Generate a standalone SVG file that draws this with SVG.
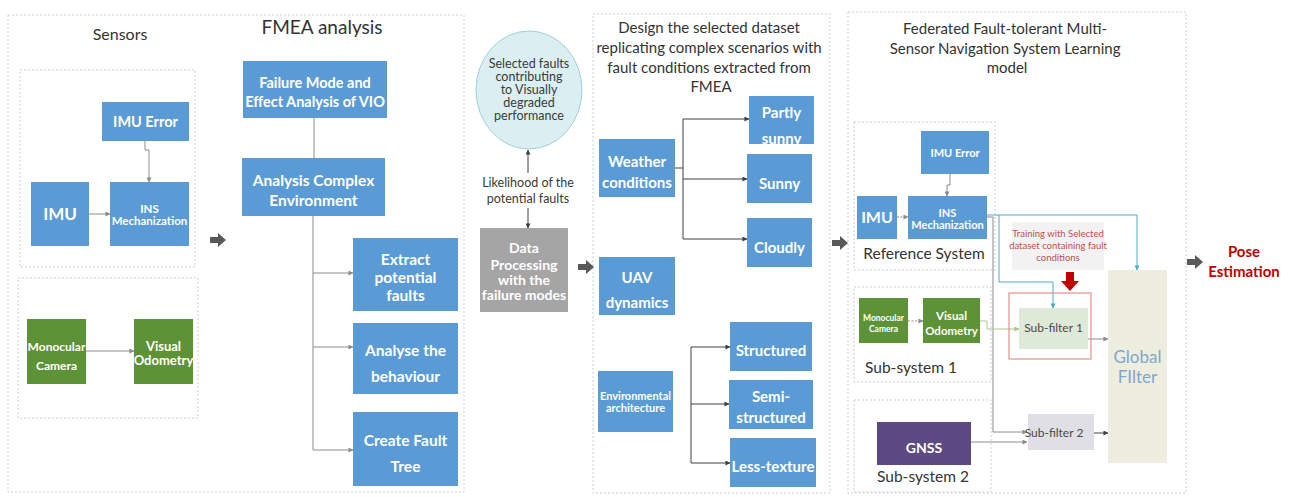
<svg xmlns="http://www.w3.org/2000/svg" width="1290" height="497" viewBox="0 0 1290 497">
  <style>
    text { font-family: Lato, "Liberation Sans", sans-serif; text-anchor: middle; }
    .panel { fill: none; stroke: #cfcfcf; stroke-width: 1; stroke-dasharray: 2 2; }
    .blue { fill: #5b9bd5; }
    .green { fill: #5e9236; }
    .gray { fill: #a5a5a5; }
    .purple { fill: #5d4a83; }
    .lbl { fill: #ffffff; font-weight: bold; }
    .title { fill: #333333; }
    .ln { fill: none; stroke: #8c8c8c; stroke-width: 1; }
    .dk { fill: none; stroke: #404040; stroke-width: 1; }
    .cy { fill: none; stroke: #4bacc6; stroke-width: 1; }
    .gn { fill: none; stroke: #a9c48d; stroke-width: 1; }
    .big { fill: #595959; }
  </style>
  <defs>
    <marker id="ah" viewBox="0 0 6 6" refX="5.5" refY="3" markerWidth="5" markerHeight="5" orient="auto" markerUnits="userSpaceOnUse">
      <path d="M0,0 L6,3 L0,6 z" fill="#404040"/>
    </marker>
    <marker id="ahg" viewBox="0 0 6 6" refX="5.5" refY="3" markerWidth="5" markerHeight="5" orient="auto" markerUnits="userSpaceOnUse">
      <path d="M0,0 L6,3 L0,6 z" fill="#8c8c8c"/>
    </marker>
    <marker id="ahc" viewBox="0 0 6 6" refX="5.5" refY="3" markerWidth="5" markerHeight="5" orient="auto" markerUnits="userSpaceOnUse">
      <path d="M0,0 L6,3 L0,6 z" fill="#4bacc6"/>
    </marker>
    <marker id="ahn" viewBox="0 0 6 6" refX="5.5" refY="3" markerWidth="5" markerHeight="5" orient="auto" markerUnits="userSpaceOnUse">
      <path d="M0,0 L6,3 L0,6 z" fill="#a9c48d"/>
    </marker>
    <!-- block arrow, origin at its left middle -->
    <path id="bigArrow" d="M0,-3 H8 V-7 L16,0 L8,7 V3 H0 Z"/>
  </defs>

  <rect width="1290" height="497" fill="#ffffff"/>

  <!-- panels -->
  <g id="panels">
    <rect class="panel" x="8" y="15" width="456" height="477"/>
    <rect class="panel" x="20" y="70" width="175" height="197"/>
    <rect class="panel" x="18" y="278" width="180" height="140"/>
    <rect class="panel" x="593" y="14" width="237" height="479"/>
    <rect class="panel" x="848" y="12" width="338" height="481"/>
    <rect class="panel" x="854" y="122" width="141" height="148"/>
    <rect class="panel" x="854" y="287" width="137" height="95"/>
    <rect class="panel" x="854" y="400" width="137" height="92"/>
  </g>

  <!-- titles -->
  <g id="titles">
    <text class="title" x="120" y="40" font-size="16">Sensors</text>
    <text class="title" x="322" y="34" font-size="19">FMEA analysis</text>
    <text class="title" font-size="15">
      <tspan x="711" y="33">Design the selected dataset</tspan>
      <tspan x="711" y="53">replicating complex scenarios with</tspan>
      <tspan x="711" y="73">fault conditions extracted from</tspan>
      <tspan x="711" y="92">FMEA</tspan>
    </text>
    <text class="title" font-size="15">
      <tspan x="1007" y="34">Federated Fault-tolerant Multi-</tspan>
      <tspan x="1007" y="54">Sensor Navigation System Learning</tspan>
      <tspan x="1007" y="73">model</tspan>
    </text>
  </g>

  <!-- connectors -->
  <g id="connectors">
    <!-- sensors -->
    <path class="ln" d="M89,214 H110" marker-end="url(#ahg)"/>
    <path class="ln" d="M145,141 V150 H149 V182" marker-end="url(#ahg)"/>
    <path class="ln" d="M86,351 H134" marker-end="url(#ahg)"/>
    <!-- FMEA -->
    <path class="ln" d="M314,118 V158"/>
    <path class="ln" d="M313,216 V450"/>
    <path class="ln" d="M313,273 H353" marker-end="url(#ahg)"/>
    <path class="ln" d="M313,347 H353" marker-end="url(#ahg)"/>
    <path class="ln" d="M313,450 H353" marker-end="url(#ahg)"/>
    <!-- likelihood -->
    <path class="dk" d="M528,173 V150" marker-end="url(#ah)"/>
    <path class="dk" d="M528,208 V228" marker-end="url(#ah)"/>
    <!-- weather -->
    <path class="dk" d="M675,168 H683"/>
    <path class="dk" d="M683,119 V239"/>
    <path class="dk" d="M683,119 H749" marker-end="url(#ah)"/>
    <path class="dk" d="M683,179 H747" marker-end="url(#ah)"/>
    <path class="dk" d="M683,239 H747" marker-end="url(#ah)"/>
    <!-- environment -->
    <path class="dk" d="M691,347 V463"/>
    <path class="dk" d="M691,347 H730" marker-end="url(#ah)"/>
    <path class="dk" d="M691,404 H729" marker-end="url(#ah)"/>
    <path class="dk" d="M691,463 H730" marker-end="url(#ah)"/>
    <!-- reference system -->
    <path class="ln" d="M897,217 H908" stroke-dasharray="2 1.5" marker-end="url(#ahg)"/>
    <path class="ln" d="M950,174 V185 H947 V196" marker-end="url(#ahg)"/>
    <path class="cy" d="M987,215 H1137 V270" marker-end="url(#ahc)"/>
    <path class="cy" d="M999,215 V282 H1053 V308" marker-end="url(#ahc)"/>
    <path class="ln" d="M987,217 H993 V432 H1027" marker-end="url(#ahg)"/>
    <!-- sub-system 1 -->
    <path class="ln" d="M908,321 H923" stroke-dasharray="2 1.5" marker-end="url(#ahg)"/>
    <path class="gn" d="M980,321 H987 V329 H1019" marker-end="url(#ahn)"/>
    <path class="ln" d="M1088,339 H1108" marker-end="url(#ahg)"/>
    <!-- sub-system 2 -->
    <path class="ln" d="M971,442 H1027" marker-end="url(#ahg)"/>
    <path class="dk" d="M1094,433 H1108" marker-end="url(#ah)"/>
    <!-- flow arrows between stages -->
    <use href="#bigArrow" class="big" x="210" y="240"/>
    <use href="#bigArrow" class="big" x="578" y="267"/>
    <use href="#bigArrow" class="big" x="832" y="243"/>
    <use href="#bigArrow" class="big" x="1187" y="262"/>
  </g>

  <!-- sensors -->
  <g id="imu-error">
    <rect class="blue" x="102" y="102" width="87" height="39"/>
    <text class="lbl" x="145.5" y="127" font-size="14.5">IMU Error</text>
  </g>
  <g id="imu">
    <rect class="blue" x="31" y="182" width="58" height="64"/>
    <text class="lbl" x="60" y="220" font-size="17">IMU</text>
  </g>
  <g id="ins">
    <rect class="blue" x="110" y="182" width="79" height="64"/>
    <text class="lbl" font-size="11.5"><tspan x="149.5" y="213">INS</tspan><tspan x="149.5" y="225">Mechanization</tspan></text>
  </g>
  <g id="camera">
    <rect class="green" x="27" y="319" width="59" height="65"/>
    <text class="lbl" font-size="12"><tspan x="56.5" y="351">Monocular</tspan><tspan x="56.5" y="370">Camera</tspan></text>
  </g>
  <g id="vo">
    <rect class="green" x="134" y="319" width="59" height="65"/>
    <text class="lbl" font-size="13"><tspan x="163.5" y="351">Visual</tspan><tspan x="163.5" y="365">Odometry</tspan></text>
  </g>

  <!-- FMEA -->
  <g id="fmea">
    <rect class="blue" x="243" y="61" width="144" height="57"/>
    <text class="lbl" font-size="14.5"><tspan x="315" y="88">Failure Mode and</tspan><tspan x="315" y="107">Effect Analysis of VIO</tspan></text>
  </g>
  <g id="complex-env">
    <rect class="blue" x="242" y="158" width="143" height="58"/>
    <text class="lbl" font-size="15.5"><tspan x="313.5" y="186">Analysis Complex</tspan><tspan x="313.5" y="206">Environment</tspan></text>
  </g>
  <g id="extract">
    <rect class="blue" x="353" y="238" width="105" height="73"/>
    <text class="lbl" font-size="15.5"><tspan x="405.5" y="265">Extract</tspan><tspan x="405.5" y="283">potential</tspan><tspan x="405.5" y="301">faults</tspan></text>
  </g>
  <g id="behaviour">
    <rect class="blue" x="353" y="323" width="105" height="71"/>
    <text class="lbl" font-size="15.5"><tspan x="405.5" y="356">Analyse the</tspan><tspan x="405.5" y="382">behaviour</tspan></text>
  </g>
  <g id="fault-tree">
    <rect class="blue" x="353" y="412" width="105" height="74"/>
    <text class="lbl" font-size="15.5"><tspan x="405.5" y="446">Create Fault</tspan><tspan x="405.5" y="472">Tree</tspan></text>
  </g>

  <!-- selected faults and data processing -->
  <g id="selected-faults">
    <ellipse cx="529" cy="90" rx="53" ry="59" fill="#dbeff2" stroke="#9fd0d6" stroke-width="1"/>
    <text fill="#3a3a3a" font-size="12.5"><tspan x="529" y="68">Selected faults</tspan><tspan x="529" y="81">contributing</tspan><tspan x="529" y="94">to Visually</tspan><tspan x="529" y="107">degraded</tspan><tspan x="529" y="120">performance</tspan></text>
  </g>
  <g id="likelihood">
    <text fill="#3a3a3a" font-size="12.5"><tspan x="528" y="187">Likelihood of the</tspan><tspan x="528" y="203">potential faults</tspan></text>
  </g>
  <g id="data-processing">
    <rect class="gray" x="480" y="228" width="88" height="84"/>
    <text class="lbl" font-size="14"><tspan x="524" y="253">Data</tspan><tspan x="524" y="270">Processing</tspan><tspan x="524" y="285">with the</tspan><tspan x="524" y="300">failure modes</tspan></text>
  </g>

  <!-- dataset design -->
  <g id="weather">
    <rect class="blue" x="599" y="139" width="76" height="58"/>
    <text class="lbl" font-size="15"><tspan x="637" y="167">Weather</tspan><tspan x="637" y="188">conditions</tspan></text>
  </g>
  <g id="partly-sunny">
    <rect class="blue" x="749" y="96" width="65" height="48"/>
    <text class="lbl" font-size="15"><tspan x="781.5" y="118">Partly</tspan><tspan x="781.5" y="144">sunny</tspan></text>
  </g>
  <g id="sunny">
    <rect class="blue" x="747" y="154" width="65" height="49"/>
    <text class="lbl" x="779.5" y="189" font-size="15">Sunny</text>
  </g>
  <g id="cloudly">
    <rect class="blue" x="747" y="218" width="65" height="49"/>
    <text class="lbl" x="779.5" y="253" font-size="15">Cloudly</text>
  </g>
  <g id="uav">
    <rect class="blue" x="599" y="257" width="76" height="58"/>
    <text class="lbl" font-size="15"><tspan x="637" y="283">UAV</tspan><tspan x="637" y="308">dynamics</tspan></text>
  </g>
  <g id="environment">
    <rect class="blue" x="598" y="371" width="75" height="61"/>
    <text class="lbl" font-size="11"><tspan x="635.5" y="400">Environmental</tspan><tspan x="635.5" y="412">architecture</tspan></text>
  </g>
  <g id="structured">
    <rect class="blue" x="730" y="322" width="82" height="49"/>
    <text class="lbl" x="771" y="356" font-size="15">Structured</text>
  </g>
  <g id="semi-structured">
    <rect class="blue" x="729" y="380" width="84" height="49"/>
    <text class="lbl" font-size="15"><tspan x="771" y="402">Semi-</tspan><tspan x="771" y="423">structured</tspan></text>
  </g>
  <g id="less-texture">
    <rect class="blue" x="730" y="438" width="86" height="49"/>
    <text class="lbl" x="773" y="472" font-size="15">Less-texture</text>
  </g>

  <!-- federated navigation model -->
  <g id="ref-imu-error">
    <rect class="blue" x="921" y="131" width="68" height="43"/>
    <text class="lbl" x="955" y="157" font-size="11">IMU Error</text>
  </g>
  <g id="ref-imu">
    <rect class="blue" x="857" y="196" width="40" height="43"/>
    <text class="lbl" x="877" y="223" font-size="16">IMU</text>
  </g>
  <g id="ref-ins">
    <rect class="blue" x="908" y="196" width="79" height="43"/>
    <text class="lbl" font-size="11"><tspan x="947.5" y="217">INS</tspan><tspan x="947.5" y="229">Mechanization</tspan></text>
  </g>
  <text class="title" x="924" y="259" font-size="15.5">Reference System</text>

  <g id="sub-camera">
    <rect class="green" x="859" y="298" width="49" height="45"/>
    <text class="lbl" font-size="8.5"><tspan x="883.5" y="321">Monocular</tspan><tspan x="883.5" y="332">Camera</tspan></text>
  </g>
  <g id="sub-vo">
    <rect class="green" x="923" y="298" width="57" height="45"/>
    <text class="lbl" font-size="11.5"><tspan x="951.5" y="320">Visual</tspan><tspan x="951.5" y="335">Odometry</tspan></text>
  </g>
  <text class="title" x="911" y="373" font-size="15.5">Sub-system 1</text>

  <g id="gnss">
    <rect class="purple" x="877" y="422" width="94" height="43"/>
    <text class="lbl" x="924" y="453" font-size="14">GNSS</text>
  </g>
  <text class="title" x="923" y="482" font-size="15.5">Sub-system 2</text>

  <g id="training">
    <rect x="1012" y="222" width="92" height="48" fill="#f2f2f2"/>
    <text fill="#c0504d" font-size="9.5"><tspan x="1058" y="237">Training with Selected</tspan><tspan x="1058" y="249">dataset containing fault</tspan><tspan x="1058" y="261">conditions</tspan></text>
    <path d="M1066,272 H1074 V281 H1079 L1070,291 L1061,281 H1066 Z" fill="#c00000"/>
  </g>
  <g id="sub-filter-1">
    <rect x="1009" y="293" width="82" height="66" fill="none" stroke="#e07b7b" stroke-width="1"/>
    <rect x="1019" y="308" width="69" height="41" fill="#dfe9d8"/>
    <text fill="#4a4a4a" x="1053.5" y="332" font-size="12">Sub-filter 1</text>
  </g>
  <g id="sub-filter-2">
    <rect x="1028" y="414" width="66" height="36" fill="#dfdfe5"/>
    <text fill="#4a4a4a" x="1054" y="437" font-size="12">Sub-filter 2</text>
  </g>
  <g id="global-filter">
    <rect x="1108" y="270" width="59" height="193" fill="#eeeee0"/>
    <text fill="#7ea6cf" font-size="17"><tspan x="1137.5" y="363">Global</tspan><tspan x="1137.5" y="383">FIlter</tspan></text>
  </g>
  <g id="pose">
    <text fill="#c00000" font-weight="bold" font-size="15"><tspan x="1244" y="257">Pose</tspan><tspan x="1244" y="277">Estimation</tspan></text>
  </g>
</svg>
